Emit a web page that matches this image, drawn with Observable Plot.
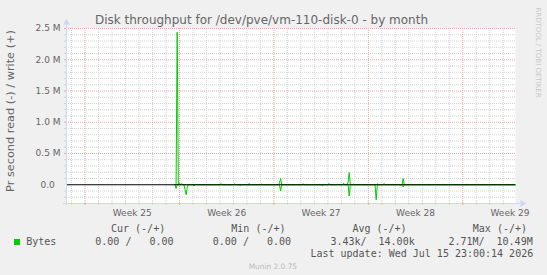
<!DOCTYPE html>
<html><head><meta charset="utf-8">
<script src="https://cdn.jsdelivr.net/npm/d3@7"></script>
<script src="https://cdn.jsdelivr.net/npm/@observablehq/plot@0.6"></script>
<style>
html,body{margin:0;padding:0;background:#f0f0f0;}
#wrap{position:relative;width:547px;height:275px;overflow:hidden;background:#f0f0f0;font-family:"DejaVu Sans",sans-serif;color:#666;}
#chart{position:absolute;left:0;top:0;}
.t{position:absolute;white-space:pre;line-height:1;}
.mono{font-family:"DejaVu Sans Mono",monospace;font-size:10px;color:#555;line-height:10px;}
</style></head><body><div id="wrap"><div id="chart"></div></div>
<script>
const title = "Disk throughput for /dev/pve/vm-110-disk-0 - by month";
const yLabel = "Pr second read (-) / write (+)";

// write (+) series, bytes per second
const writeTimes = ["2026-06-20T20:00Z","2026-06-21T00:00Z","2026-06-21T04:00Z","2026-06-24T02:00Z","2026-06-25T02:00Z","2026-06-26T04:00Z","2026-06-27T02:00Z","2026-06-28T10:00Z","2026-06-28T12:00Z","2026-06-30T04:00Z","2026-07-02T02:00Z","2026-07-02T18:00Z","2026-07-03T04:00Z","2026-07-03T12:00Z","2026-07-03T14:00Z","2026-07-03T22:00Z","2026-07-05T16:00Z","2026-07-06T04:00Z","2026-07-07T14:00Z"];
const writeValues = [2440000,25000,20000,20000,15000,20000,10000,30000,100000,15000,20000,10000,25000,40000,195000,10000,15000,20000,100000];
// read (-) series, bytes per second
const readTimes = ["2026-06-20T18:00Z","2026-06-21T10:00Z","2026-06-21T12:00Z","2026-06-21T14:00Z","2026-06-22T02:00Z","2026-06-25T12:00Z","2026-06-26T04:00Z","2026-06-28T12:00Z","2026-07-01T14:00Z","2026-07-03T14:00Z","2026-07-05T14:00Z","2026-07-07T14:00Z"];
const readValues = [60000,80000,160000,40000,20000,15000,10000,100000,15000,180000,240000,35000];
const seriesStart = "2026-06-20T16:00Z", seriesEnd = "2026-07-15T22:00Z";

const xDomain = ["2026-06-12T15:05Z", "2026-07-15T21:50Z"];
const yDomain = [-300000, 2500000];
const yTicks = [0, 500000, 1000000, 1500000, 2000000, 2500000];
const yTickLabels = ["0.0\u00a0\u00a0", "0.5 M", "1.0 M", "1.5 M", "2.0 M", "2.5 M"];
const weekStarts = ["2026-06-14","2026-06-21","2026-06-28","2026-07-05","2026-07-12"];
const weekMids = ["2026-06-17T12:00Z","2026-06-24T12:00Z","2026-07-01T12:00Z","2026-07-08T12:00Z","2026-07-15T12:00Z"];
const weekLabels = ["Week 25","Week 26","Week 27","Week 28","Week 29"];

const legendName = "Bytes";
const legendHeaders = ["Cur (-/+)", "Min (-/+)", "Avg (-/+)", "Max (-/+)"];
const legendValues = ["0.00 /   0.00", "0.00 /   0.00", "3.43k/  14.00k", "2.71M/  10.49M"];
const lastUpdate = "Last update: Wed Jul 15 23:00:14 2026";
const credit = "Munin 2.0.75";
const watermark = "RRDTOOL / TOBI OETIKER";

const green = "#00cc00", gridMinor = "#d2d2d2", gridMajor = "#eaa8a8", axisColor = "#cfd6f8";

const parse = d => new Date(d);
const wMap = new Map(writeTimes.map((t, i) => [+parse(t), writeValues[i]]));
const rMap = new Map(readTimes.map((t, i) => [+parse(t), readValues[i]]));
const steps = d3.utcHour.every(2).range(parse(seriesStart), new Date(+parse(seriesEnd) + 1));
const rows = steps.flatMap(t => [
  {t, v: wMap.get(+t) ?? 0, s: "write"},
  {t, v: -(rMap.get(+t) ?? 0), s: "read"}
]);

const xd = xDomain.map(parse);
const weekStartDates = weekStarts.map(parse);
const weekSet = new Set(weekStartDates.map(d => +d));
const days = d3.utcDay.range(d3.utcDay.ceil(xd[0]), xd[1]);
const minorDays = days.filter(d => !weekSet.has(+d));
const yMinor = d3.range(yDomain[0], yDomain[1] + 1, 100000).filter(v => v % 500000 !== 0 && v > yDomain[0]);
const yMajor = yTicks.filter(v => v !== 0);
const weekMidDates = weekMids.map(parse);
const weekLabelMap = new Map(weekMidDates.map((d, i) => [+d, weekLabels[i]]));
const yLabelMap = new Map(yTicks.map((v, i) => [v, yTickLabels[i]]));

const chart = Plot.plot({
  width: 547, height: 222,
  marginLeft: 66, marginRight: 32, marginTop: 28, marginBottom: 19,
  style: {background: "transparent", fontFamily: "DejaVu Sans", fontSize: "9px", color: "#666", overflow: "visible"},
  x: {type: "utc", domain: xd},
  y: {domain: yDomain},
  marks: [
    Plot.frame({fill: "#ffffff", stroke: null}),
    Plot.ruleY(yMinor, {stroke: gridMinor, strokeDasharray: "1,1"}),
    Plot.ruleX(minorDays, {stroke: gridMinor, strokeDasharray: "1,1"}),
    Plot.ruleY(yMajor, {stroke: gridMajor, strokeDasharray: "1,1"}),
    Plot.ruleX(weekStartDates, {stroke: gridMajor, strokeDasharray: "1,1"}),
    Plot.line(rows, {x: "t", y: "v", z: "s", stroke: green, strokeWidth: 1}),
    Plot.ruleY([0], {stroke: "#000000", strokeWidth: 1}),
    Plot.ruleX([xd[0]], {stroke: axisColor, insetTop: -5, insetBottom: -2}),
    Plot.ruleY([yDomain[0]], {stroke: axisColor, insetLeft: -3, insetRight: -6}),
    Plot.dot([0], {x: () => xd[0], y: () => yDomain[1], symbol: "triangle", r: 2.6, fill: axisColor, stroke: null, dy: -6}),
    Plot.dot([0], {x: () => xd[1], y: () => yDomain[0], symbol: "triangle", r: 2.6, rotate: 90, fill: axisColor, stroke: null, dx: 7}),
    Plot.axisX({ticks: minorDays, tickSize: 2, text: null, stroke: gridMinor, label: null}),
    Plot.axisX({ticks: weekStartDates, tickSize: 2, text: null, stroke: gridMajor, label: null}),
    Plot.axisY({ticks: yMinor, tickSize: 2, text: null, stroke: gridMinor, label: null}),
    Plot.axisY({ticks: yMajor, tickSize: 2, text: null, stroke: gridMajor, label: null}),
    Plot.axisX({ticks: weekMidDates, tickSize: 0, tickPadding: 6, tickFormat: d => weekLabelMap.get(+d), label: null, fontSize: 9}),
    Plot.axisY({ticks: yTicks, tickSize: 0, tickPadding: 6, tickFormat: d => yLabelMap.get(d), label: null, fontSize: 9})
  ]
});
const wrap = document.getElementById("wrap");
document.getElementById("chart").appendChild(chart);

function addText(txt, css, cls = "t") {
  const el = document.createElement("div");
  el.className = cls;
  el.textContent = txt;
  Object.assign(el.style, css);
  wrap.appendChild(el);
  return el;
}
addText(title, {left: "0px", width: "523px", textAlign: "center", top: "14px", fontSize: "12px", lineHeight: "12px", color: "#666"});
addText(yLabel, {left: "-89px", width: "200px", textAlign: "center", top: "105px", fontSize: "11.3px", lineHeight: "12px", color: "#666", transform: "rotate(-90deg)"});
addText(watermark, {left: "487px", width: "100px", textAlign: "center", top: "49px", fontSize: "7px", lineHeight: "7px", color: "#c8c8c8", transform: "rotate(90deg)"});

const headerLeft = [111, 231.3, 352.4, 472.8];
const valueLeft = [95.3, 212.8, 330.4, 448.4];
legendHeaders.forEach((h, i) => addText(h, {left: headerLeft[i] + "px", top: "223.5px"}, "t mono"));
legendValues.forEach((v, i) => addText(v, {left: valueLeft[i] + "px", top: "236.5px"}, "t mono"));
addText(legendName, {left: "26.2px", top: "236.5px"}, "t mono");
const sw = document.createElement("div");
Object.assign(sw.style, {position: "absolute", left: "14px", top: "238.5px", width: "6px", height: "6px", background: green});
wrap.appendChild(sw);
addText(lastUpdate, {right: "13.8px", top: "249px"}, "t mono");
addText(credit, {left: "222.9px", width: "100px", textAlign: "center", top: "262.5px", fontSize: "7.4px", lineHeight: "8px", color: "#bbbbbb"});
</script></body></html>
